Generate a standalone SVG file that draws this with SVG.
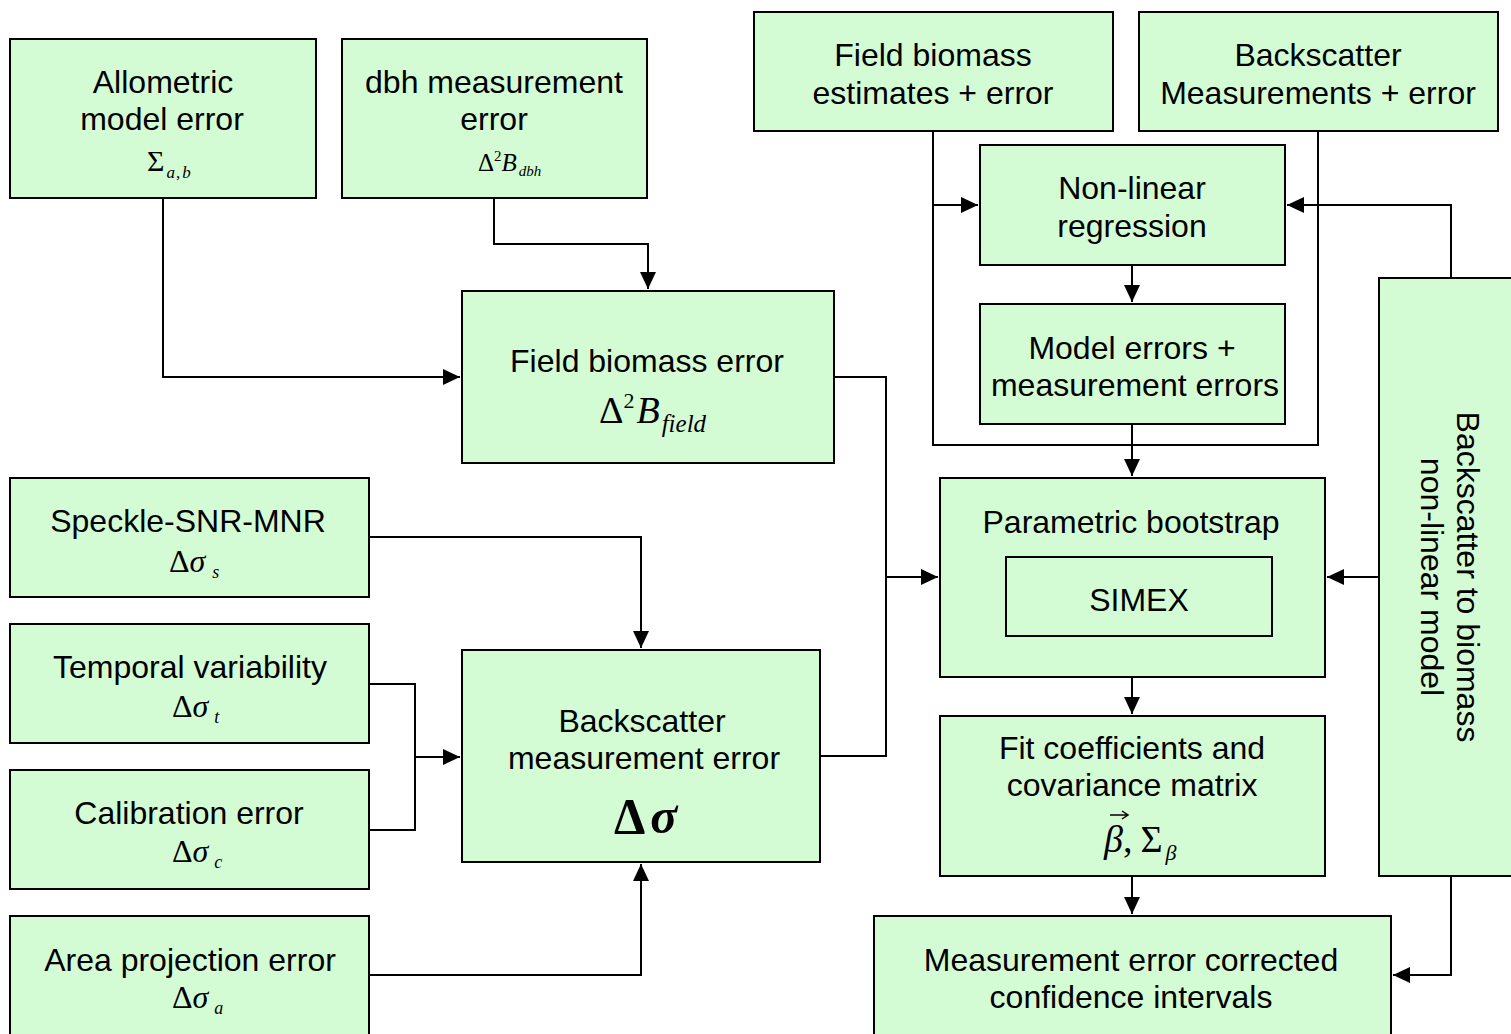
<svg xmlns="http://www.w3.org/2000/svg" width="1511" height="1034" viewBox="0 0 1511 1034">
<style>
.box{fill:#d4fcd4;stroke:#000;stroke-width:2}
.inner{fill:none;stroke:#000;stroke-width:2}
.t{font-family:"Liberation Sans",Arial,sans-serif;font-size:32px;fill:#000;text-anchor:middle}
.m{font-family:"Liberation Serif","Times New Roman",serif;fill:#000}
.i{font-style:italic}
.c{fill:none;stroke:#000;stroke-width:2}
</style>
<defs>
<marker id="ah" markerUnits="userSpaceOnUse" markerWidth="18" markerHeight="16" refX="17" refY="8" orient="auto">
<path d="M0,0 L17,8 L0,16 Z" fill="#000"/>
</marker>
</defs>
<rect width="1511" height="1034" fill="#fff"/>

<g id="connectors">
<path class="c" d="M163,198 V377 H460" marker-end="url(#ah)"/>
<path class="c" d="M494,198 V244 H648 V289" marker-end="url(#ah)"/>
<path class="c" d="M834,377 H886 V756 H820"/>
<path class="c" d="M886,577 H938" marker-end="url(#ah)"/>
<path class="c" d="M933,131 V445 H1318 V131"/>
<path class="c" d="M933,205 H978" marker-end="url(#ah)"/>
<path class="c" d="M1132,265 V302" marker-end="url(#ah)"/>
<path class="c" d="M1132,424 V476" marker-end="url(#ah)"/>
<path class="c" d="M1451,278 V205 H1287" marker-end="url(#ah)"/>
<path class="c" d="M1379,577 H1327" marker-end="url(#ah)"/>
<path class="c" d="M1451,876 V975 H1393" marker-end="url(#ah)"/>
<path class="c" d="M369,537 H641 V648" marker-end="url(#ah)"/>
<path class="c" d="M369,684 H415 V830 H369"/>
<path class="c" d="M415,757 H460" marker-end="url(#ah)"/>
<path class="c" d="M369,975 H641 V864" marker-end="url(#ah)"/>
<path class="c" d="M1132,677 V714" marker-end="url(#ah)"/>
<path class="c" d="M1132,876 V914" marker-end="url(#ah)"/>
</g>

<g id="allometric">
<rect class="box" x="10" y="39" width="306" height="159"/>
<text class="t" x="163" y="93">Allometric</text>
<text class="t" x="162" y="130">model error</text>
<text class="m" x="147" y="171" font-size="30">Σ<tspan class="i" font-size="17" dx="2" dy="7">a</tspan><tspan font-size="17" dx="1">,</tspan><tspan class="i" font-size="17" dx="2">b</tspan></text>
</g>

<g id="dbh">
<rect class="box" x="342" y="39" width="305" height="159"/>
<text class="t" x="494" y="93">dbh measurement</text>
<text class="t" x="494" y="130">error</text>
<text class="m" x="478" y="171" font-size="25">Δ<tspan font-size="15" dy="-10">2</tspan><tspan class="i" dy="10">B</tspan><tspan class="i" font-size="15" dx="2" dy="5">dbh</tspan></text>
</g>

<g id="field-estimates">
<rect class="box" x="754" y="12" width="359" height="119"/>
<text class="t" x="933" y="66">Field biomass</text>
<text class="t" x="933" y="104">estimates + error</text>
</g>

<g id="backscatter-measurements">
<rect class="box" x="1139" y="12" width="359" height="119"/>
<text class="t" x="1318" y="66">Backscatter</text>
<text class="t" x="1318" y="104">Measurements + error</text>
</g>

<g id="nonlinear">
<rect class="box" x="980" y="145" width="305" height="120"/>
<text class="t" x="1132" y="199">Non-linear</text>
<text class="t" x="1132" y="237">regression</text>
</g>

<g id="model-errors">
<rect class="box" x="980" y="304" width="305" height="120"/>
<text class="t" x="1132" y="359">Model errors +</text>
<text class="t" x="1135" y="396">measurement errors</text>
</g>

<g id="field-error">
<rect class="box" x="462" y="291" width="372" height="172"/>
<text class="t" x="647" y="372">Field biomass error</text>
<text class="m" x="599" y="423" font-size="38">Δ<tspan font-size="22" dy="-15">2</tspan><tspan class="i" dx="2" dy="15">B</tspan><tspan class="i" font-size="25" dx="2" dy="9">field</tspan></text>
</g>

<g id="speckle">
<rect class="box" x="10" y="478" width="359" height="119"/>
<text class="t" x="188" y="532">Speckle-SNR-MNR</text>
<text class="m" x="169" y="572" font-size="32">Δ<tspan class="i">σ</tspan><tspan class="i" font-size="18" dx="7" dy="6">s</tspan></text>
</g>

<g id="temporal">
<rect class="box" x="10" y="624" width="359" height="119"/>
<text class="t" x="190" y="678">Temporal variability</text>
<text class="m" x="172" y="717" font-size="32">Δ<tspan class="i">σ</tspan><tspan class="i" font-size="18" dx="6" dy="6">t</tspan></text>
</g>

<g id="calibration">
<rect class="box" x="10" y="770" width="359" height="119"/>
<text class="t" x="189" y="824">Calibration error</text>
<text class="m" x="172" y="862" font-size="32">Δ<tspan class="i">σ</tspan><tspan class="i" font-size="18" dx="6" dy="6">c</tspan></text>
</g>

<g id="area">
<rect class="box" x="10" y="916" width="359" height="130"/>
<text class="t" x="190" y="971">Area projection error</text>
<text class="m" x="172" y="1008" font-size="32">Δ<tspan class="i">σ</tspan><tspan class="i" font-size="18" dx="6" dy="6">a</tspan></text>
</g>

<g id="backscatter-error">
<rect class="box" x="462" y="650" width="358" height="212"/>
<text class="t" x="642" y="732">Backscatter</text>
<text class="t" x="644" y="769">measurement error</text>
<text class="m" x="614" y="833" font-size="50" font-weight="bold">Δ<tspan class="i" dx="5">σ</tspan></text>
</g>

<g id="bootstrap">
<rect class="box" x="940" y="478" width="385" height="199"/>
<text class="t" x="1131" y="533">Parametric bootstrap</text>
<rect class="inner" x="1006" y="557" width="266" height="79"/>
<text class="t" x="1139" y="611">SIMEX</text>
</g>

<g id="fit">
<rect class="box" x="940" y="716" width="385" height="160"/>
<text class="t" x="1132" y="759">Fit coefficients and</text>
<text class="t" x="1132" y="796">covariance matrix</text>
<text class="m" x="1104" y="852" font-size="38"><tspan class="i">β</tspan>,<tspan dx="8">Σ</tspan><tspan class="i" font-size="22" dx="3" dy="8">β</tspan></text>
<path d="M1110,815 H1127 M1122,811 L1128,815 L1122,819" fill="none" stroke="#000" stroke-width="1.5"/>
</g>

<g id="confidence">
<rect class="box" x="874" y="916" width="517" height="130"/>
<text class="t" x="1131" y="971">Measurement error corrected</text>
<text class="t" x="1131" y="1008">confidence intervals</text>
</g>

<g id="nonlinear-model">
<rect class="box" x="1379" y="278" width="140" height="598"/>
<g transform="translate(1450,577) rotate(90)">
<text class="t" x="0" y="-7">Backscatter to biomass</text>
<text class="t" x="0" y="29">non-linear model</text>
</g>
</g>
</svg>
